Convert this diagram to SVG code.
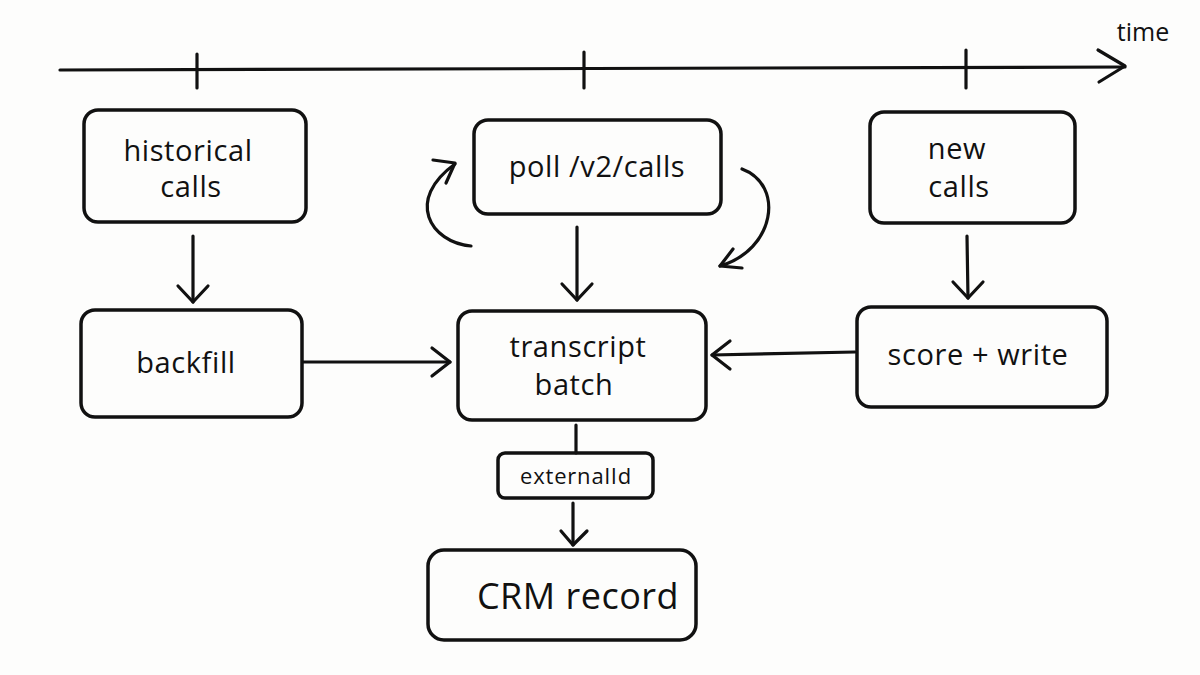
<svg xmlns="http://www.w3.org/2000/svg" width="1200" height="675" viewBox="0 0 1200 675">
<defs>
<style>
.bg{fill:#fdfdfc}
.box{fill:none;stroke:#111;stroke-width:3.5;stroke-linejoin:round}
.ln{fill:none;stroke:#111;stroke-width:3.2;stroke-linecap:round;stroke-linejoin:round}
.t{font-family:"Open Sans","DejaVu Sans",sans-serif;fill:#111;text-anchor:middle}
.m{font-size:29px;letter-spacing:0.6px}
.s{font-size:22px;letter-spacing:0.8px}
.l{font-size:36px;letter-spacing:0.5px}
</style>
</defs>
<rect class="bg" width="1200" height="675"/>
<g id="timeline">
<path class="ln" d="M60,70 L1125,67"/>
<path class="ln" d="M1098,50 L1125,66 L1099,82"/>
<path class="ln" d="M197,54 L197,88"/>
<path class="ln" d="M584,52 L584,88"/>
<path class="ln" d="M966,50 L966,88"/>
<text class="t" x="1143" y="41" style="font-size:25px">time</text>
</g>
<g id="connectors">
<path class="ln" d="M193,236 L193,302"/>
<path class="ln" d="M178,286 L193,302 L208,286"/>
<path class="ln" d="M303,362 L450,362"/>
<path class="ln" d="M432,348 L450,362 L432,376"/>
<path class="ln" d="M855,352 L712,355"/>
<path class="ln" d="M730,341 L712,355 L730,369"/>
<path class="ln" d="M577,227 L577,300"/>
<path class="ln" d="M562,284 L577,300 L592,284"/>
<path class="ln" d="M967,236 L968,298"/>
<path class="ln" d="M953,282 L968,298 L983,282"/>
<path class="ln" d="M576,425 L576,453"/>
<path class="ln" d="M573,503 L573,545"/>
<path class="ln" d="M561,531 L573,545 L587,531"/>
<path class="ln" d="M471,246 C430,242 405,200 455,164"/>
<path class="ln" d="M433,160 L455,163 L446,183"/>
<path class="ln" d="M742,169 C785,185 775,250 720,266"/>
<path class="ln" d="M742,268 L720,266 L733,249"/>
</g>
<g id="historical-calls">
<rect class="box" x="84" y="110" width="222" height="112" rx="14"/>
<text class="t m" x="188" y="161">historical</text>
<text class="t m" x="191" y="197">calls</text>
</g>
<g id="backfill">
<rect class="box" x="81" y="310" width="221" height="107" rx="14"/>
<text class="t m" x="186" y="373">backfill</text>
</g>
<g id="poll">
<rect class="box" x="474" y="120" width="247" height="94" rx="14"/>
<text class="t m" x="597" y="177">poll /v2/calls</text>
</g>
<g id="transcript-batch">
<rect class="box" x="458" y="311" width="248" height="109" rx="14"/>
<text class="t m" x="578" y="357">transcript</text>
<text class="t m" x="574" y="395">batch</text>
</g>
<g id="new-calls">
<rect class="box" x="870" y="112" width="205" height="111" rx="14"/>
<text class="t m" x="957" y="159">new</text>
<text class="t m" x="959" y="197">calls</text>
</g>
<g id="score-write">
<rect class="box" x="857" y="307" width="250" height="100" rx="14"/>
<text class="t m" x="978" y="365">score + write</text>
</g>
<g id="externalId">
<rect class="box" x="498" y="453" width="155" height="45" rx="7"/>
<text class="t s" x="576" y="484">externalId</text>
</g>
<g id="crm-record">
<rect class="box" x="428" y="550" width="268" height="90" rx="16"/>
<text class="t l" x="578" y="609">CRM record</text>
</g>
</svg>
